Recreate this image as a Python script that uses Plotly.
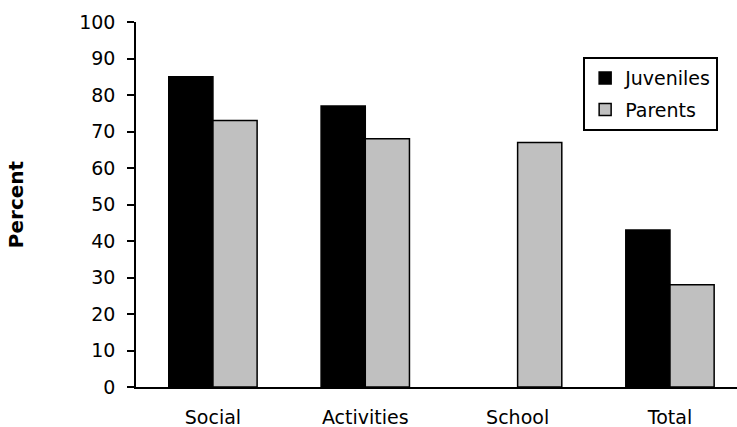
import plotly.graph_objects as go

categories = ["Social", "Activities", "School", "Total"]
juveniles = [85, 77, None, 43]
parents = [73, 68, 67, 28]
y_ticks = [0, 10, 20, 30, 40, 50, 60, 70, 80, 90, 100]

FONT = "DejaVu Sans"

fig = go.Figure()
fig.add_trace(go.Bar(
    name="Juveniles", x=categories, y=juveniles, legendgroup="j",
    marker=dict(color="#000000", line=dict(color="#000000", width=1.5)),
))
fig.add_trace(go.Bar(
    name="Parents", x=categories, y=parents, legendgroup="p",
    marker=dict(color="#C0C0C0", line=dict(color="#000000", width=1.5)),
))

fig.update_layout(
    width=737, height=427,
    margin=dict(l=136, r=0, t=22, b=40),
    paper_bgcolor="white", plot_bgcolor="white",
    barmode="group", bargap=0.42, bargroupgap=0,
    font=dict(family=FONT, size=19, color="black"),
    showlegend=True,
    legend=dict(
        x=0.744, y=0.904, xanchor="left", yanchor="top",
        bordercolor="black", borderwidth=2, bgcolor="white",
        font=dict(family=FONT, size=19, color="black"),
        traceorder="grouped", tracegroupgap=4, itemwidth=30,
    ),
    xaxis=dict(
        range=[-0.505, 3.44], automargin=False,
        showline=True, linecolor="black", linewidth=2,
        ticks="", showgrid=False, zeroline=False,
        tickfont=dict(family=FONT, size=19, color="black"),
        ticklabelstandoff=12,
    ),
    yaxis=dict(
        range=[0, 100], tickvals=y_ticks, automargin=False,
        showline=True, linecolor="black", linewidth=1.5,
        ticks="outside", ticklen=7, tickwidth=1.5, tickcolor="black",
        showgrid=False, zeroline=False,
        tickfont=dict(family=FONT, size=19, color="black"),
        ticklabelstandoff=8,
        title=dict(text="<b>Percent</b>", font=dict(family=FONT, size=20, color="black"), standoff=50),
    ),
)

fig.write_html("out.html")
